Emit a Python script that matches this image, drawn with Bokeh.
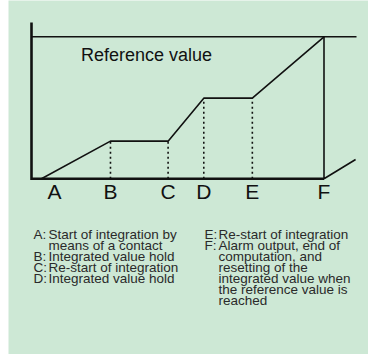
from bokeh.plotting import figure
from bokeh.models import Range1d, ColumnDataSource
from bokeh.core.properties import value
from bokeh.embed import file_html
from bokeh.resources import INLINE

# ---- data ----
events = ["A", "B", "C", "D", "E", "F"]
event_times = [0.34, 2.7, 4.67, 5.89, 7.55, 10.0]       # time units
integrated = [0.0, 26.5, 26.5, 56.8, 56.8, 100.0]        # % of reference value
reference_value = 100.0
after_reset_times = [10.0, 10.0, 11.08]
after_reset_values = [100.0, 0.0, 13.6]
hold_events = ["B", "C", "D", "E"]

legend_left = [
    ("A:", ["Start  of  integration  by", "means of a contact"]),
    ("B:", ["Integrated value hold"]),
    ("C:", ["Re-start of integration"]),
    ("D:", ["Integrated value hold"]),
]
legend_right = [
    ("E:", ["Re-start of integration"]),
    ("F:", ["Alarm output, end of", "computation, and", "resetting of the",
            "integrated value when", "the reference value is", "reached"]),
]

# ---- layout (pixel mapping helpers) ----
W, H = 368, 354
LEFT = 8
SX, SY = 29.25, 1.42          # px per time unit, px per % unit
OX, OY = 31.0, 178.3          # page position of origin
def dx(px):
    return (px - OX) / SX
def dy(py):
    return (OY - py) / SY

BG = "#cde8d5"
INK = "#111111"

p = figure(width=W, height=H, output_backend="svg", toolbar_location=None,
           x_range=Range1d(dx(LEFT), dx(W)), y_range=Range1d(dy(H), dy(0)),
           min_border=0, min_border_left=LEFT, background_fill_color=BG,
           border_fill_color="white", outline_line_color=None)
p.axis.visible = False
p.grid.visible = False

# axes (time axis and value axis)
p.line([0, 0], [dy(22), dy(179.5)], line_color=INK, line_width=2.6)
p.line([0, event_times[-1]], [0, 0], line_color=INK, line_width=2.6)

# reference value line
p.line([0, dx(356)], [reference_value, reference_value], line_color=INK, line_width=1.6)

# integrated value profile
p.line(event_times, integrated, line_color=INK, line_width=1.6)
p.line(after_reset_times, after_reset_values, line_color=INK, line_width=1.6)

# dotted hold markers
hx = [event_times[events.index(e)] for e in hold_events]
hy = [integrated[events.index(e)] for e in hold_events]
p.segment(x0=hx, y0=[0] * len(hx), x1=hx, y1=hy, line_color=INK,
          line_width=1.6, line_dash="2 3")

# event labels
src = ColumnDataSource(dict(x=event_times, y=[dy(191)] * len(events), t=events,
                            xo=[13 if e == "A" else 0 for e in events]))
p.text(x="x", y="y", text="t", x_offset="xo", source=src, text_align="center",
       text_baseline="alphabetic", text_font=value("Liberation Sans"),
       text_font_size="21px", text_color=INK)

p.text(x=[dx(80.5)], y=[dy(54)], text=["Reference value"], text_align="left",
       text_baseline="alphabetic", text_font=value("Liberation Sans"),
       text_font_size="18px", text_color=INK)

# legend text
def put_column(entries, x_key, x_body, y0, step):
    xs, ys, ts = [], [], []
    row = 0
    for key, lines in entries:
        xs.append(dx(x_key)); ys.append(dy(y0 + row * step)); ts.append(key)
        for ln in lines:
            xs.append(dx(x_body)); ys.append(dy(y0 + row * step)); ts.append(ln)
            row += 1
    p.text(x=xs, y=ys, text=ts, text_align="left", text_baseline="alphabetic",
           text_font=value("Liberation Sans"), text_font_size="13.5px",
           text_color="#2a2a2a")

put_column(legend_left, 33, 48, 234.3, 11.0)
put_column(legend_right, 204, 218, 234.3, 11.0)

open("out.html", "w").write(file_html(p, INLINE))
